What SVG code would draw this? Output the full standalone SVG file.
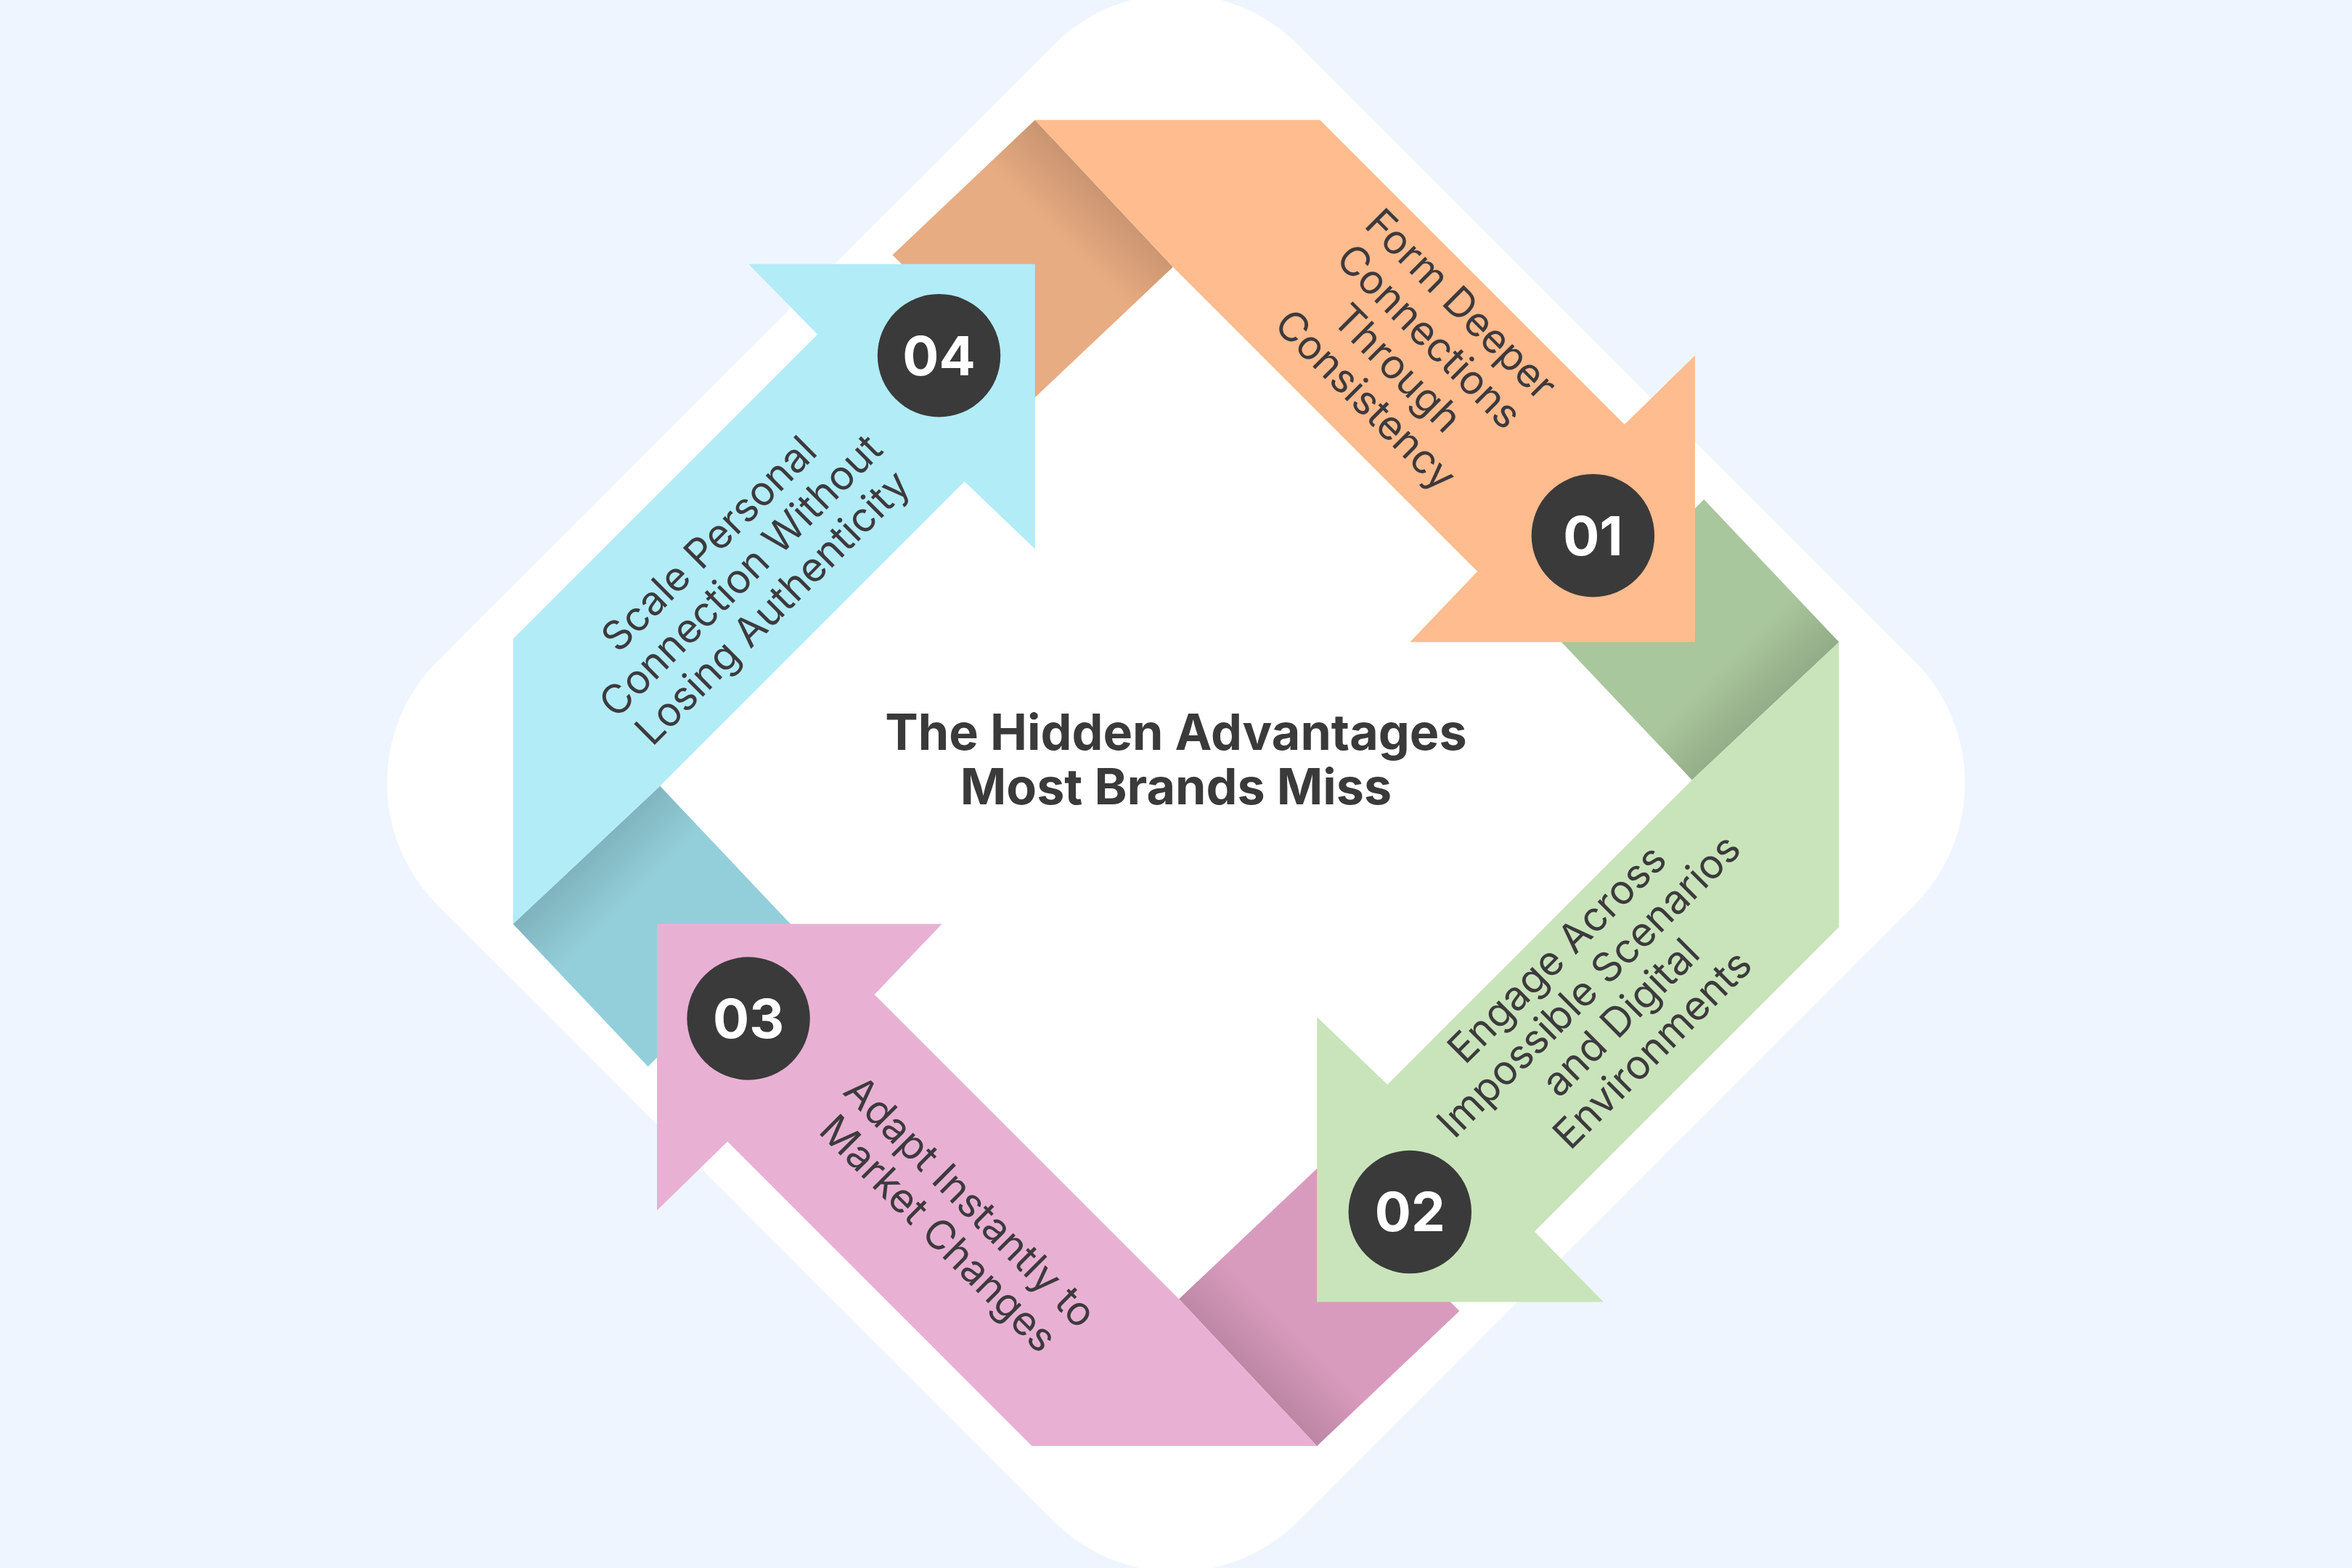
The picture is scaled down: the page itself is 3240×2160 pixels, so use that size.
<svg xmlns="http://www.w3.org/2000/svg" width="3240" height="2160" viewBox="0 0 3240 2160">
<style>
.t{font-family:Inter,"Noto Sans","Liberation Sans",sans-serif;fill:#3d3a3d;font-size:27px;text-anchor:middle}
.title{font-family:Inter,"Noto Sans","Liberation Sans",sans-serif;fill:#3a3a3a;font-size:33px;font-weight:700;text-anchor:middle}
.num{font-family:Inter,"Noto Sans","Liberation Sans",sans-serif;fill:#fff;font-size:36px;font-weight:700;text-anchor:middle}
.badge{fill:#3a3a3a}
</style>
<defs>
<linearGradient id="sh" gradientUnits="userSpaceOnUse" x1="736" y1="129" x2="706" y2="159">
<stop offset="0" stop-color="#000" stop-opacity="0.13"/>
<stop offset="1" stop-color="#000" stop-opacity="0"/>
</linearGradient>
<polygon id="fold" points="595,170 690,80 782,178 690,265"/>
<polygon id="band" points="690,80 880,80 1083,283 1130,237 1130,428 940,428 985,381 782,178"/>
</defs>
<rect width="3240" height="2160" fill="#eff5fe"/>
<g transform="scale(2.0663)">
<rect x="378.4" y="116.4" width="811.2" height="811.2" rx="115" fill="#fff" transform="rotate(45 784 522)"/>
<g id="folds">
<g><use href="#fold" fill="#e8ac82"/><use href="#fold" fill="url(#sh)"/></g>
<g transform="rotate(90 784 522)"><use href="#fold" fill="#a9c79c"/><use href="#fold" fill="url(#sh)"/></g>
<g transform="rotate(180 784 522)"><use href="#fold" fill="#d99bbd"/><use href="#fold" fill="url(#sh)"/></g>
<g transform="rotate(270 784 522)"><use href="#fold" fill="#93cfda"/><use href="#fold" fill="url(#sh)"/></g>
</g>
<g id="node01"><use href="#band" fill="#ffbc8e"/></g>
<g id="node02"><use href="#band" fill="#c9e4bb" transform="rotate(90 784 522)"/></g>
<g id="node03"><use href="#band" fill="#e8b1d4" transform="rotate(180 784 522)"/></g>
<g id="node04"><use href="#band" fill="#b2ecf7" transform="rotate(270 784 522)"/></g>
<g id="labels01">
<text class="t" transform="translate(942,235) rotate(45)"><tspan x="0" y="-36">Form Deeper</tspan><tspan x="0" y="-6">Connections</tspan><tspan x="0" y="24">Through</tspan><tspan x="0" y="54">Consistency</tspan></text>
<circle class="badge" cx="1062" cy="357" r="41"/><text class="num" x="1062" y="370">01</text>
</g>
<g id="labels02">
<text class="t" transform="translate(1070,668) rotate(-45)"><tspan x="0" y="-36">Engage Across</tspan><tspan x="0" y="-6">Impossible Scenarios</tspan><tspan x="0" y="24">and Digital</tspan><tspan x="0" y="54">Environments</tspan></text>
<circle class="badge" cx="940" cy="808" r="41"/><text class="num" x="940" y="821">02</text>
</g>
<g id="labels03">
<text class="t" transform="translate(636,812) rotate(45)"><tspan x="0" y="-6">Adapt Instantly to</tspan><tspan x="0" y="24">Market Changes</tspan></text>
<circle class="badge" cx="499" cy="679" r="41"/><text class="num" x="499" y="692">03</text>
</g>
<g id="labels04">
<text class="t" transform="translate(494,384) rotate(-45)"><tspan x="0" y="-21">Scale Personal</tspan><tspan x="0" y="9">Connection Without</tspan><tspan x="0" y="39">Losing Authenticity</tspan></text>
<circle class="badge" cx="626" cy="237" r="41"/><text class="num" x="626" y="250">04</text>
</g>
<g id="title">
<text class="title" x="784" y="500">The Hidden Advantages</text>
<text class="title" x="784" y="536">Most Brands Miss</text>
</g>
</g>
</svg>
